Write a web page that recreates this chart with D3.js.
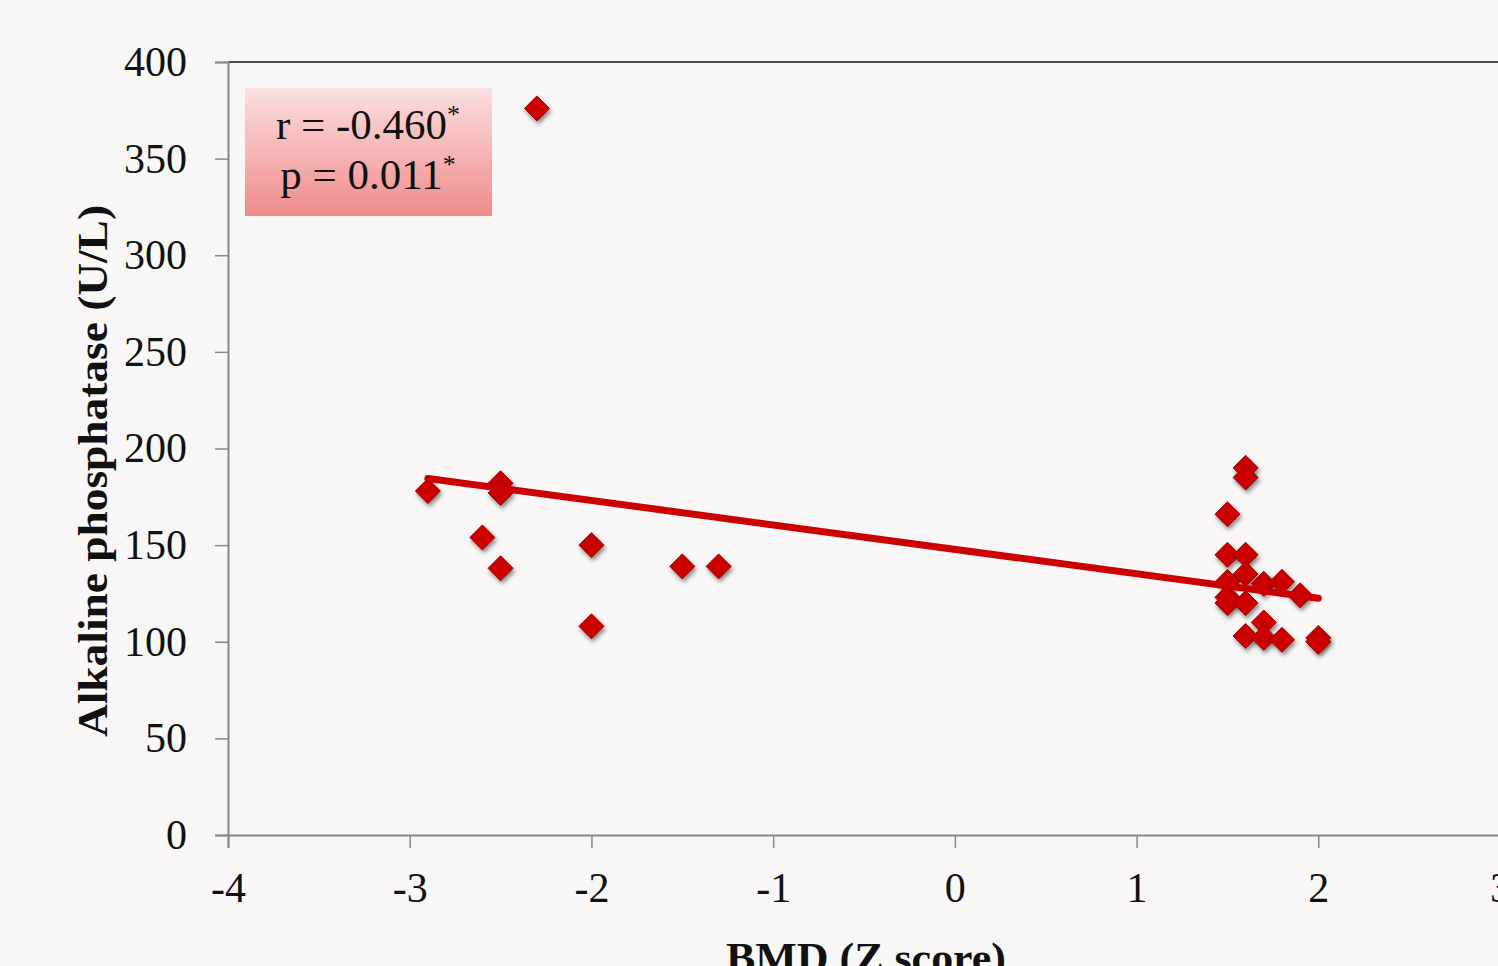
<!DOCTYPE html>
<html><head><meta charset="utf-8">
<script src="https://cdn.jsdelivr.net/npm/d3@7"></script>
<style>
html,body{margin:0;padding:0;background:#f8f7f5;}
svg{display:block;}
</style></head>
<body>
<svg id="chart" width="1498" height="966"></svg>
<script>
// Data
const bmd = [-2.9, -2.5, -2.5, -2.6, -2.5, -2.0, -2.0, -1.5, -1.3, -2.3,
             1.6, 1.6, 1.5, 1.5, 1.6, 1.6, 1.5, 1.7, 1.8, 1.9, 1.5, 1.5, 1.6, 1.7, 1.6, 1.7, 1.8, 2.0, 2.0];
const alp = [178, 182, 177, 154, 138, 150, 108, 139, 139, 376,
             190, 185, 166, 145, 145, 135, 131, 130, 131, 124, 123, 120, 120, 110, 103, 102, 101, 102, 100];
const trendX = [-2.9, 2.0];
const trendY = [184.5, 122.5];
const xTicks = [-4, -3, -2, -1, 0, 1, 2, 3];
const yTicks = [0, 50, 100, 150, 200, 250, 300, 350, 400];
const statLines = ["r = -0.460", "p = 0.011"];

(function () {
const svg = d3.select("#chart");
const W = 1498, H = 966;
const mLeft = 228, mTop = 62, mBottom = 835;
const x = d3.scaleLinear().domain([-4, 3]).range([mLeft, 1500]);
const y = d3.scaleLinear().domain([0, 400]).range([mBottom, mTop]);
const serif = "'Liberation Serif','DejaVu Serif',serif";

svg.append("rect").attr("width", W).attr("height", H).attr("fill", "#f8f7f5");

const defs = svg.append("defs");
const grad = defs.append("linearGradient").attr("id", "boxg").attr("x1", 0).attr("y1", 0).attr("x2", 0).attr("y2", 1);
grad.append("stop").attr("offset", "0%").attr("stop-color", "#fbdfe0");
grad.append("stop").attr("offset", "100%").attr("stop-color", "#f08b8b");
const f = defs.append("filter").attr("id", "shadow").attr("x", "-50%").attr("y", "-50%").attr("width", "200%").attr("height", "200%");
f.append("feDropShadow").attr("dx", 1.5).attr("dy", 3).attr("stdDeviation", 2).attr("flood-color", "#000").attr("flood-opacity", 0.45);

// top border
svg.append("line").attr("x1", mLeft).attr("x2", W).attr("y1", mTop).attr("y2", mTop)
  .attr("stroke", "#111").attr("stroke-width", 1.5);

// Y axis
const yAxis = svg.append("g").attr("transform", `translate(${mLeft},0)`)
  .call(d3.axisLeft(y).tickValues(yTicks).tickSize(13).tickPadding(28).tickFormat(d => String(d)));
yAxis.select(".domain").attr("stroke", "#888").attr("stroke-width", 2);
yAxis.selectAll(".tick line").attr("stroke", "#888").attr("stroke-width", 1.5);
yAxis.selectAll("text").attr("font-family", serif).attr("font-size", 42).attr("fill", "#111").attr("dy", "0.32em");

// X axis
const xAxis = svg.append("g").attr("transform", `translate(0,${mBottom})`)
  .call(d3.axisBottom(x).tickValues(xTicks).tickSize(13).tickPadding(24).tickFormat(d => String(d)));
xAxis.select(".domain").attr("stroke", "#888").attr("stroke-width", 2);
xAxis.selectAll(".tick line").attr("stroke", "#888").attr("stroke-width", 1.5);
xAxis.selectAll("text").attr("font-family", serif).attr("font-size", 42).attr("fill", "#111");

// Axis titles
svg.append("text").attr("x", 866).attr("y", 972).attr("text-anchor", "middle")
  .attr("font-family", serif).attr("font-weight", "bold").attr("font-size", 43).attr("fill", "#111")
  .attr("textLength", 280).attr("lengthAdjust", "spacingAndGlyphs")
  .text("BMD (Z score)");
svg.append("text").attr("transform", "translate(107,471) rotate(-90)").attr("text-anchor", "middle")
  .attr("font-family", serif).attr("font-weight", "bold").attr("font-size", 43).attr("fill", "#111")
  .attr("textLength", 532).attr("lengthAdjust", "spacingAndGlyphs")
  .text("Alkaline phosphatase (U/L)");

// Points
const pts = bmd.map((v, i) => ({ x: v, y: alp[i] }));
const s = 12.5;
svg.append("g").selectAll("path").data(pts).join("path")
  .attr("d", `M0,${-s}L${s},0L0,${s}L${-s},0Z`)
  .attr("transform", d => `translate(${x(d.x)},${y(d.y)})`)
  .attr("fill", "#cc0000").attr("stroke", "#9a0000").attr("stroke-width", 1)
  .attr("filter", "url(#shadow)");

// Trend line
svg.append("line")
  .attr("x1", x(trendX[0])).attr("y1", y(trendY[0]))
  .attr("x2", x(trendX[1])).attr("y2", y(trendY[1]))
  .attr("stroke", "#cc0000").attr("stroke-width", 7).attr("stroke-linecap", "round");

// Stats box
svg.append("rect").attr("x", 245).attr("y", 88).attr("width", 247).attr("height", 128).attr("fill", "url(#boxg)");
statLines.forEach((t, i) => {
  const tx = svg.append("text").attr("x", 368).attr("y", 139 + i * 50).attr("text-anchor", "middle")
    .attr("font-family", serif).attr("font-size", 43).attr("fill", "#111");
  tx.append("tspan").text(t);
  tx.append("tspan").attr("dy", -16).attr("font-size", 26).text("*");
});
})();
</script>
</body></html>
